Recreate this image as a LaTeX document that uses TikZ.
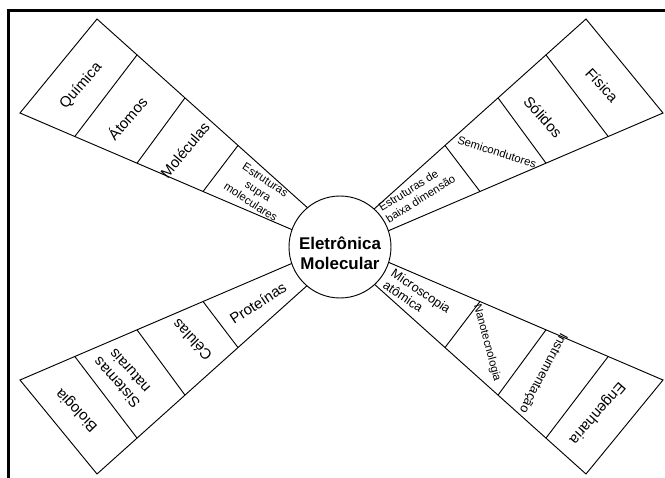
\documentclass[tikz,border=0pt]{standalone}
\usepackage{fontspec}
\setmainfont{Liberation Sans}
\usetikzlibrary{calc}

\begin{document}
\begin{tikzpicture}[
  x=0.75pt, y=-0.75pt,
  seg/.style={line width=0.7pt},
  biglbl/.style={font=\fontsize{11.2}{13}\selectfont, inner sep=0pt, align=center},
  midlbl/.style={font=\fontsize{9.6}{11}\selectfont, inner sep=0pt, align=left},
  smalllbl/.style={font=\fontsize{8.5}{10}\selectfont, inner sep=0pt, align=center},
  hub/.style={circle, draw, fill=white, line width=0.7pt, inner sep=0pt, minimum size=76.5pt},
]
\useasboundingbox (0,0) rectangle (665,478);

% Frame (only top and left edges show)
\draw[line width=2pt] (8.7,478) -- (8.7,10.3) -- (665,10.3);

% Sector corners: h = flat edge, v = steep edge; capitals at the hub
\coordinate (ul-h) at (20,113);  \coordinate (ul-H) at (294,230.5);
\coordinate (ul-v) at (97,19);   \coordinate (ul-V) at (310,210);
\coordinate (ur-h) at (663,113); \coordinate (ur-H) at (389,230.5);
\coordinate (ur-v) at (586,19);  \coordinate (ur-V) at (373,210);
\coordinate (ll-h) at (20,380);  \coordinate (ll-H) at (294,262.5);
\coordinate (ll-v) at (97,474);  \coordinate (ll-V) at (310,283);
\coordinate (lr-h) at (663,380); \coordinate (lr-H) at (389,262.5);
\coordinate (lr-v) at (586,474); \coordinate (lr-V) at (373,283);

% Sector outlines and dividers
\foreach \s in {ul,ur,ll,lr} {
  \draw[seg] ($(\s-v)!1.05!(\s-V)$) -- (\s-v) -- (\s-h) -- ($(\s-h)!1.05!(\s-H)$);
  \foreach \f/\g in {0.20/0.188, 0.427/0.413, 0.668/0.662}
    \draw[seg] ($(\s-h)!\f!(\s-H)$) -- ($(\s-v)!\g!(\s-V)$);
}

% Hub
\node[hub] (hub) at (340,247) {};
\node[font=\fontsize{12.7}{15}\selectfont\bfseries, align=center, inner sep=0pt]
  (hubtxt) at (340,253) {Eletrônica\\Molecular};

% Upper left: chemistry
\node[biglbl, rotate=49] (quimica) at (81,86) {Química};
\node[biglbl, rotate=49] (atomos) at (127,118) {Átomos};
\node[biglbl, rotate=50] (moleculas) at (185,150) {Moléculas};
\node[smalllbl, rotate=-33] (supra) at (258,191) {Estruturas\\supra\\moleculares};

% Upper right: physics
\node[biglbl, rotate=-47] (fisica) at (602,85) {Física};
\node[biglbl, rotate=-48] (solidos) at (543,117) {Sólidos};
\node[smalllbl, rotate=-18] (semi) at (497,152) {Semicondutores};
\node[smalllbl, rotate=32, align=left] (baixa) at (417,193) {Estruturas de\\baixa dimensão};

% Lower left: biology
\node[biglbl, rotate=33] (proteinas) at (258,303) {Proteínas};
\node[biglbl, rotate=134] (celulas) at (192,340) {Células};
\node[biglbl, rotate=132] (sistemas) at (123,377) {Sistemas\\naturais};
\node[biglbl, rotate=134] (biologia) at (77,410) {Biologia};

% Lower right: engineering
\node[midlbl, rotate=-34] (micro) at (417,297) {Microscopia\\atômica};
\node[smalllbl, rotate=-75] (nano) at (487,343) {Nanotecnologia};
\node[midlbl, rotate=-118] (instr) at (543,373) {Instrumentação};
\node[biglbl, rotate=-131] (engenharia) at (597,413) {Engenharia};

\end{tikzpicture}
\end{document}
